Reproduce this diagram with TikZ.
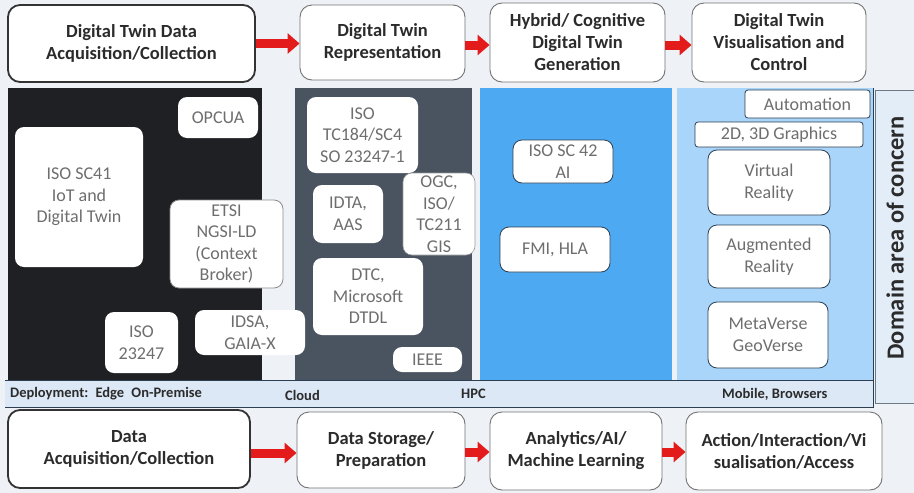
\documentclass[tikz,border=0pt]{standalone}
\usepackage{fontspec}
\setmainfont{Carlito}
\usetikzlibrary{arrows.meta,calc}
\definecolor{bgc}{HTML}{EEF2F7}
\definecolor{colA}{HTML}{1E2024}
\definecolor{colB}{HTML}{4A5461}
\definecolor{colC}{HTML}{4DAAF2}
\definecolor{colD}{HTML}{A9D5FA}
\definecolor{stripc}{HTML}{DCE8F6}
\definecolor{domc}{HTML}{E3EDF8}
\definecolor{edgec}{HTML}{2C3E50}
\definecolor{txtd}{HTML}{2B2B2B}
\definecolor{txtg}{HTML}{6E6E6E}
\definecolor{redc}{HTML}{E31B1B}
\tikzset{
  stagebox/.style={draw=black!55, line width=0.9pt, fill=white, rounded corners=12pt,
    align=center, inner sep=0pt, text=txtd, font=\fontsize{18.5}{22}\selectfont\bfseries},
  firstbox/.style={stagebox, draw=black!80, line width=1.8pt},
  ibox/.style={fill=white, rounded corners=9pt, align=center, inner sep=0pt,
    text=txtg, font=\fontsize{18}{21.5}\selectfont},
  jbox/.style={ibox, draw=edgec, line width=0.8pt},
  redarr/.style={draw=redc, line width=9pt, -{Triangle[length=12pt,width=20pt]}},
  striptext/.style={anchor=west, text=txtd, font=\fontsize{14.5}{16}\selectfont\bfseries, inner sep=0pt},
}
\begin{document}
\begin{tikzpicture}[x=1pt,y=-1pt]
\fill[bgc] (0,0) rectangle (914,493);
\useasboundingbox (0,0) rectangle (914,493);

% ---- top row
\node[firstbox, minimum width=247, minimum height=77] (t1) at (131.5,43.5) {Digital Twin Data\\Acquisition/Collection};
\node[stagebox, minimum width=165, minimum height=75] (t2) at (382.5,42.5) {Digital Twin\\Representation};
\node[stagebox, minimum width=175, minimum height=79] (t3) at (577.5,42.5) {Hybrid/ Cognitive\\Digital Twin\\Generation};
\node[stagebox, minimum width=174, minimum height=79] (t4) at (779,42.5) {Digital Twin\\Visualisation and\\Control};
\draw[redarr] (t1.east) -- (t1.east -| t2.west);
\draw[redarr] (t2.east |- 0,45) -- (t3.west |- 0,45);
\draw[redarr] (t3.east |- 0,45) -- (t4.west |- 0,45);

% ---- middle panel columns
\fill[colA] (8,88) rectangle (262,380);
\fill[colB] (295,88) rectangle (472,380);
\fill[colC] (480,88) rectangle (672,380);
\fill[colD] (677,88) rectangle (873,380);
\fill[stripc] (5,380) rectangle (873,407);
\draw[edgec, line width=0.8pt] (5,380) -- (873,380);
\draw[edgec, line width=0.8pt] (5,407) -- (873,407) -- (873,88);
\fill[domc] (875,90) rectangle (914,403);
\draw[edgec!70, line width=0.6pt] (914,90) -- (875,90) -- (875,403) -- (914,403);
\node[rotate=90, text=txtd, font=\fontsize{24.5}{27}\selectfont\bfseries] (dom) at (895,238) {Domain area of concern};

% deployment strip labels
\node[striptext] (dep) at (10,394) {Deployment:\enspace Edge\enspace On-Premise};
\node[striptext] (cloud) at (285,395) {Cloud};
\node[striptext] (hpc) at (461,394) {HPC};
\node[striptext] (mob) at (722,394) {Mobile,\ Browsers};

% column 1
\node[ibox, minimum width=80, minimum height=41] (opc) at (218,117.5) {OPCUA};
\node[ibox, minimum width=128, minimum height=140] (sc41) at (79,197) {ISO SC41\\IoT and\\Digital Twin};
\node[ibox, draw=black!45, line width=0.8pt, minimum width=113, minimum height=88] (etsi) at (226.5,244) {ETSI\\NGSI-LD\\(Context\\Broker)};
\node[ibox, minimum width=73, minimum height=61] (iso23) at (141.5,342.5) {ISO\\23247};
\node[ibox, minimum width=110, minimum height=45] (idsa) at (250,332.5) {IDSA,\\GAIA-X};

% column 2
\node[ibox, minimum width=111, minimum height=76] (tc184) at (362.5,135) {ISO\\TC184/SC4\\SO 23247-1};
\node[ibox, minimum width=70, minimum height=58] (idta) at (348,214) {IDTA,\\AAS};
\node[ibox, draw=black!40, line width=0.6pt, minimum width=72, minimum height=82] (ogc) at (439,214) {OGC,\\ISO/\\TC211\\GIS};
\node[ibox, minimum width=110, minimum height=77] (dtc) at (368,296.5) {DTC,\\Microsoft\\DTDL};
\node[ibox, minimum width=69, minimum height=25] (ieee) at (427.5,359.5) {IEEE};

% column 3
\node[jbox, minimum width=100, minimum height=43] (sc42) at (563,161.5) {ISO SC 42\\AI};
\node[jbox, minimum width=110, minimum height=45] (fmi) at (555,249.5) {FMI, HLA};

% column 4
\node[jbox, rounded corners=3pt, minimum width=125, minimum height=28] (auto) at (807.5,104) {Automation};
\node[jbox, rounded corners=3pt, minimum width=168, minimum height=25] (gfx) at (779,134.5) {2D, 3D Graphics};
\node[jbox, minimum width=122, minimum height=65] (vr) at (769,182.5) {Virtual\\Reality};
\node[jbox, minimum width=122, minimum height=63] (ar) at (769,256.5) {Augmented\\Reality};
\node[jbox, minimum width=120, minimum height=66] (meta) at (768,335) {MetaVerse\\GeoVerse};

% ---- bottom row
\node[firstbox, minimum width=242, minimum height=78] (b1) at (129,449) {Data\\Acquisition/Collection};
\node[stagebox, minimum width=168, minimum height=76] (b2) at (381,450) {Data Storage/\\Preparation};
\node[stagebox, minimum width=172, minimum height=78] (b3) at (576,451) {Analytics/AI/\\Machine Learning};
\node[stagebox, minimum width=196, minimum height=78] (b4) at (784,451) {Action/Interaction/Vi\\sualisation/Access};
\draw[redarr] (b1.east |- 0,453) -- (b2.west |- 0,453);
\draw[redarr] (b2.east |- 0,452) -- (b3.west |- 0,452);
\draw[redarr] (b3.east |- 0,452) -- (b4.west |- 0,452);
\end{tikzpicture}
\end{document}
